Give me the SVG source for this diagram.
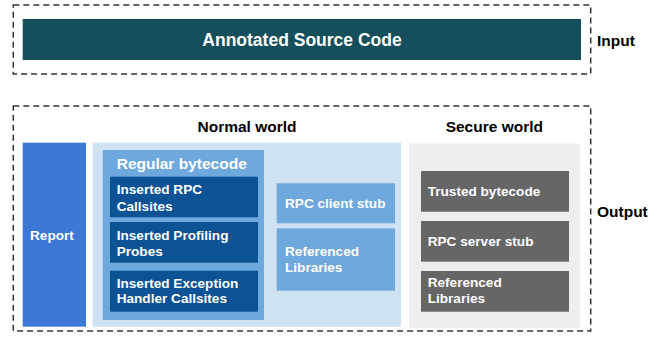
<svg xmlns="http://www.w3.org/2000/svg" width="660" height="337" viewBox="0 0 660 337">
  <style>
    text { font-family: "Liberation Sans", Arial, sans-serif; font-weight: bold; }
    .frame { fill: none; stroke: #333333; stroke-width: 1.5; stroke-dasharray: 6 4; }
    .side { font-size: 15.5px; fill: #000000; }
    .title { font-size: 15.5px; fill: #000000; text-anchor: middle; }
    .lbl { font-size: 13.6px; fill: #ffffff; }
    .dark { fill: #0b5394; }
    .mid { fill: #6fa8dc; }
    .gray { fill: #666666; }
  </style>

  <!-- Input section -->
  <g id="input-frame">
    <rect class="frame" x="13.3" y="5" width="577.4" height="69"/>
    <text class="side" x="597" y="45.5">Input</text>
  </g>
  <g id="annotated-source">
    <rect x="22.7" y="19" width="558.3" height="41" fill="#164f5c"/>
    <text x="302" y="46" font-size="17.5px" fill="#ffffff" text-anchor="middle">Annotated Source Code</text>
  </g>

  <!-- Output section -->
  <g id="output-frame">
    <rect class="frame" x="13.3" y="106" width="577.4" height="225"/>
    <text class="side" x="597" y="216.7">Output</text>
  </g>

  <g id="report">
    <rect x="22.7" y="142.7" width="63.3" height="184" fill="#3c78d8"/>
    <text class="lbl" x="30" y="240">Report</text>
  </g>

  <g id="normal-world">
    <text class="title" x="247" y="132.3">Normal world</text>
    <rect x="92.7" y="142.7" width="308.3" height="184" fill="#cfe2f3"/>
  </g>

  <g id="regular-bytecode">
    <rect class="mid" x="102.7" y="150" width="161.3" height="170"/>
    <text x="116.7" y="168.5" font-size="15.5px" fill="#ffffff">Regular bytecode</text>
  </g>

  <g id="rpc-callsites">
    <rect class="dark" x="110" y="176.7" width="148" height="40.6"/>
    <text class="lbl" x="116.7" y="194">Inserted RPC</text>
    <text class="lbl" x="116.7" y="210.7">Callsites</text>
  </g>

  <g id="profiling-probes">
    <rect class="dark" x="110" y="222" width="148" height="40.7"/>
    <text class="lbl" x="116.7" y="240">Inserted Profiling</text>
    <text class="lbl" x="116.7" y="255.7">Probes</text>
  </g>

  <g id="exception-callsites">
    <rect class="dark" x="110" y="270.7" width="148" height="41"/>
    <text class="lbl" x="116.7" y="287.7">Inserted Exception</text>
    <text class="lbl" x="116.7" y="303.3">Handler Callsites</text>
  </g>

  <g id="rpc-client-stub">
    <rect class="mid" x="276.7" y="183.3" width="118.3" height="40"/>
    <text class="lbl" x="285" y="207.7">RPC client stub</text>
  </g>

  <g id="normal-libraries">
    <rect class="mid" x="276.7" y="228.3" width="118.3" height="62.4"/>
    <text class="lbl" x="285" y="256">Referenced</text>
    <text class="lbl" x="285" y="271.7">Libraries</text>
  </g>

  <g id="secure-world">
    <text class="title" x="494.3" y="132.3">Secure world</text>
    <rect x="409" y="143.5" width="171" height="184.2" fill="#eeeeee"/>
  </g>

  <g id="trusted-bytecode">
    <rect class="gray" x="421" y="171" width="148" height="40.7"/>
    <text class="lbl" x="427.7" y="195.7">Trusted bytecode</text>
  </g>

  <g id="rpc-server-stub">
    <rect class="gray" x="421" y="221" width="148" height="40.7"/>
    <text class="lbl" x="427.7" y="245.7">RPC server stub</text>
  </g>

  <g id="secure-libraries">
    <rect class="gray" x="421" y="271" width="148" height="40.7"/>
    <text class="lbl" x="427.7" y="287.3">Referenced</text>
    <text class="lbl" x="427.7" y="303.3">Libraries</text>
  </g>

  <g id="connectors"/>
</svg>
